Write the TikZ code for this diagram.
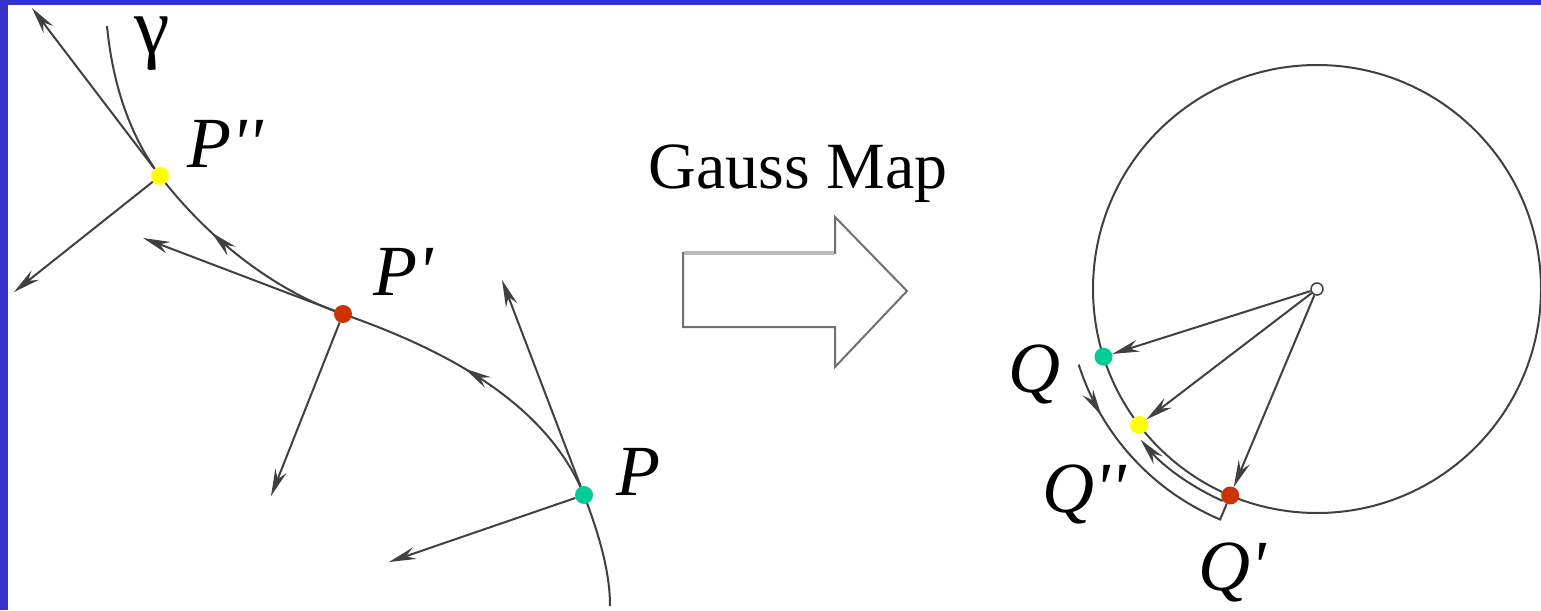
\documentclass[tikz,border=0pt]{standalone}
\usepackage{fontspec}
\setmainfont{Liberation Serif}
\newfontfamily\lblfont{Liberation Serif}[Ligatures=TeXOff]
\usetikzlibrary{arrows.meta,decorations.markings,calc}
\definecolor{frameblue}{HTML}{3333CC}
\definecolor{ink}{HTML}{404040}
\definecolor{dotyellow}{HTML}{FFFF00}
\definecolor{dotred}{HTML}{CC3300}
\definecolor{dotgreen}{HTML}{00CC99}
\definecolor{boxgray}{HTML}{707070}
\definecolor{boxlight}{HTML}{BBBBBB}
\begin{document}
\begin{tikzpicture}[x=1pt,y=-1pt,
  curve/.style={draw=ink,line width=2pt},
  tip/.tip={Stealth[length=27pt,width=12pt,inset=9pt]},
  vec/.style={curve,-tip},
  midarrow/.style={postaction={decorate},decoration={markings,mark=at position #1 with {\arrow{tip}}}},
  dot/.style={circle,inner sep=0pt,minimum size=18pt},
  lbl/.style={font=\lblfont\fontsize{72}{80}\selectfont\itshape,inner sep=0pt,anchor=base},
  title/.style={font=\fontsize{66}{72}\selectfont,inner sep=0pt,anchor=base}
]
\useasboundingbox (0,0) rectangle (1541,610);
\fill[frameblue] (0,0) rectangle (1541,610);
\fill[white] (8,5) rectangle (1541,610);

% ---- left: curve gamma ----
\coordinate (Ppp) at (160,176);
\coordinate (Pp) at (343,314);
\coordinate (P) at (584,495);
\coordinate (g0) at (107,26);
\coordinate (g1) at (610,606);
\coordinate (tPpp) at (32,8);
\coordinate (nPpp) at (14,292);
\coordinate (tPp) at (143,238);
\coordinate (nPp) at (271,496);
\coordinate (tP) at (502,280);
\coordinate (nP) at (389,562);

\draw[curve] (g0) .. controls (112,78) and (127,132) .. (Ppp);
\draw[curve,midarrow=0.67] (Pp) .. controls (272,290) and (206,236) .. (Ppp);
\draw[curve,midarrow=0.57] (P) .. controls (545,400) and (440,348) .. (Pp);
\draw[curve] (P) .. controls (598,532) and (610,570) .. (g1);

\node[dot,fill=dotyellow] (dPpp) at (Ppp) {};
\node[dot,fill=dotred] (dPp) at (Pp) {};
\node[dot,fill=dotgreen] (dP) at (P) {};

\draw[vec] (dPpp) -- (tPpp);
\draw[vec] (dPpp) -- (nPpp);
\draw[vec] (dPp) -- (tPp);
\draw[vec] (dPp) -- (nPp);
\draw[vec] (dP) -- (tP);
\draw[vec] (dP) -- (nP);

\node[lbl,font=\lblfont\fontsize{80}{88}\selectfont] (lgamma) at (152,53) {γ};
\node[lbl] (lPpp) at (225,167) {P''};
\node[lbl] (lPp) at (403,295) {P'};
\node[lbl] (lP) at (638,495) {P};

% ---- middle: Gauss map arrow ----
\node[title] (gm) at (798,188) {Gauss Map};
\draw[boxgray,line width=2pt,line join=miter]
  (683,253) -- (835,253) -- (835,217) -- (907,291) -- (835,367) -- (835,327) -- (683,327) -- cycle;
\draw[boxlight,line width=3.5pt] (684,253) -- (834,253);

% ---- right: unit circle ----
\coordinate (C) at (1317,289);
\draw[curve] (C) circle[radius=224pt];
\node[dot,fill=dotgreen] (Q) at ($(C)+(197.6:224pt)$) {};
\node[dot,fill=dotyellow] (Qpp) at ($(C)+(217.4:224pt)$) {};
\node[dot,fill=dotred] (Qp) at ($(C)+(247.2:224pt)$) {};
\node[circle,draw=ink,line width=1.5pt,fill=white,minimum size=12pt,inner sep=0pt] (O) at (C) {};

\draw[vec] (O) -- (Q);
\draw[vec] (O) -- (Qpp);
\draw[vec] (O) -- (Qp);

\coordinate (qa) at ($(C)+(197.6:250pt)$);
\coordinate (qc) at ($(C)+(246:232pt)$);
\draw[curve,midarrow=0.24] (qa) arc[start angle=197.6,end angle=247.2,radius=250pt] -- (Qp);
\draw[vec] (qc) arc[start angle=246,end angle=220.5,radius=232pt];

\node[lbl] (lQ) at (1034,392) {Q};
\node[lbl] (lQpp) at (1084,512) {Q''};
\node[lbl] (lQp) at (1232,590) {Q'};
\end{tikzpicture}
\end{document}
